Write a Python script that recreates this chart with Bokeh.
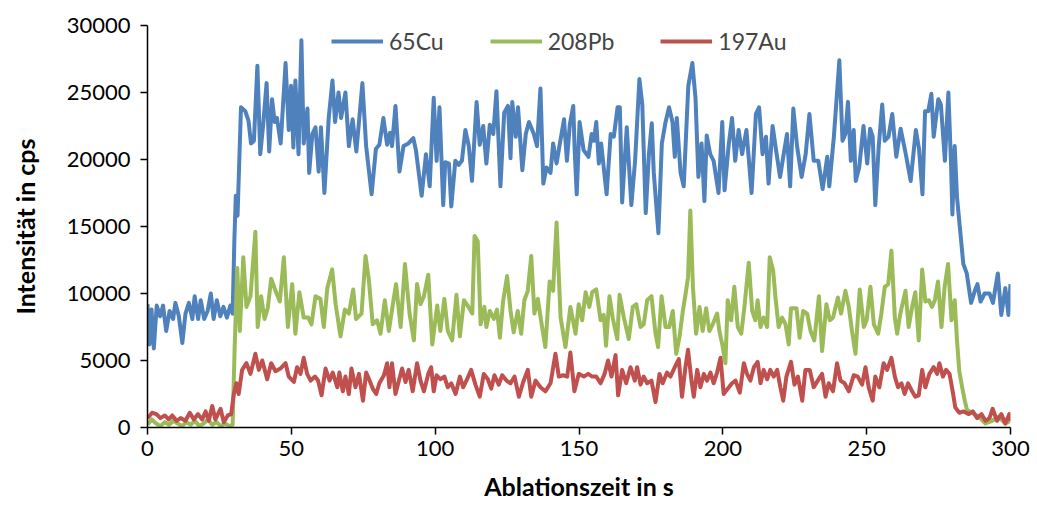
from bokeh.plotting import figure
from bokeh.models import Range1d, FixedTicker, Legend, LegendItem, ColumnDataSource
from bokeh.embed import file_html
from bokeh.resources import INLINE

# ---- data ----
cu_t = [0, 0.7, 1.4, 2.2, 3.2, 4.4, 5.4, 6.5, 7.7, 8.9, 9.7, 10.9, 12.1, 13.2, 14.4, 15.6, 16.4, 17.6, 18.5, 19.7,
        20.9, 22, 23, 24.1, 25.3, 26.4, 27.6, 28.8, 29.6, 30.2, 30.7, 31.3, 32.5, 34, 35.1, 36, 37, 38.2, 39.2, 40.3,
        41.4, 42.3, 43.3, 44.2, 45, 46.3, 48, 49.1, 49.9, 50.7, 51.4, 52.5, 53.5, 54.3, 55.6, 56.2, 57.3, 58.4, 59.5, 60.3,
        61.5, 63, 64.3, 65.2, 66.4, 67.3, 68.8, 70, 71.3, 72.6, 74.7, 76, 77.9, 79.4, 80.6, 82, 83.3, 84.3, 85, 86.2,
        87.6, 89, 90.7, 92.4, 93.3, 95.3, 96.8, 98.1, 99.5, 100.5, 101.5, 102.8, 103.5, 104.8, 105.6, 107, 108.2, 109.3, 110.5, 111.7,
        112.8, 114.4, 115.5, 116.7, 117.8, 119, 120.2, 121.3, 122.7, 124, 125.3, 126.2, 126.8, 128, 128.8, 130.3, 131.5, 132.6, 134.3, 135.4,
        136.6, 137.6, 138.7, 140.1, 141, 142.2, 143.2, 144.8, 145.8, 146.8, 148, 148.5, 149.2, 150.2, 151.6, 153.3, 154.4, 155.2, 156, 156.9,
        157.7, 159.6, 161, 162.1, 163.4, 164.2, 165, 166.6, 168.2, 169.5, 171, 172, 173.2, 174.3, 175.3, 176, 177.6, 178.8, 180, 181.3,
        182.5, 183.3, 184, 185.3, 186.4, 188, 189.4, 190.5, 191.5, 192.6, 193.6, 194.4, 195.6, 196.8, 198.5, 199.8, 200.6, 202, 203.2, 204.3,
        205.5, 206.7, 208.2, 210, 211.5, 212.6, 213.8, 215, 215.9, 217.3, 218.5, 219.9, 221, 222.3, 223.4, 224.5, 225.8, 227.4, 228.8, 230.1,
        231.6, 233.2, 234.7, 236.3, 237, 238.6, 240.5, 241.6, 242.6, 243.5, 244.5, 245.5, 246.2, 247.4, 248.9, 250.2, 251.2, 252.1, 253, 254.2,
        255.4, 256.3, 257.6, 258.9, 260.3, 261.8, 263.6, 265.3, 267.1, 268.2, 269.4, 270.3, 271.4, 272.5, 273.3, 274.9, 275.8, 277.2, 278.4, 279.3,
        279.8, 280.6, 281.4, 282.5, 283.6, 284.8, 286.3, 287.6, 288.5, 289.6, 291, 292.7, 293.9, 295.6, 296.8, 298.2, 299.3, 300]
cu_v = [9200, 6200, 8800, 5900, 9100, 8300, 9100, 7200, 8700, 8100, 9300, 8300, 6300, 8500, 9300, 8100, 9800, 8100, 9500, 8100,
        8700, 10000, 8100, 9500, 8300, 9000, 8200, 9100, 8500, 14000, 17300, 15800, 23900, 23600, 22900, 21200, 21400, 27000, 20400, 22800,
        25700, 20600, 24500, 22800, 23100, 21200, 27200, 22200, 25500, 20900, 25900, 20400, 28900, 21200, 23800, 19000, 21900, 22400, 19100, 22400,
        17500, 23100, 25900, 22800, 25000, 23100, 25000, 21000, 23000, 20600, 25700, 21000, 17400, 20800, 21100, 23100, 21100, 22000, 21000, 24000,
        19100, 21000, 21200, 21600, 20700, 17300, 20400, 18000, 24600, 19900, 23900, 16600, 19800, 19700, 16500, 19900, 19600, 19900, 22200, 21000,
        18400, 24300, 21100, 22500, 19700, 22600, 21900, 25100, 18000, 23500, 24000, 20100, 24300, 21700, 23900, 19200, 21900, 22800, 21900, 21000,
        25300, 18200, 19400, 19000, 21200, 19700, 21000, 23000, 19900, 22600, 24000, 20700, 17400, 22800, 20700, 20200, 21900, 21400, 22800, 19700,
        21200, 17400, 21900, 21700, 23900, 23900, 16800, 22400, 16600, 19900, 26000, 24100, 16000, 20400, 22700, 19000, 14500, 21200, 22700, 23900,
        22800, 20200, 23100, 19000, 18000, 25500, 27200, 24600, 18700, 21200, 16900, 21800, 20400, 19900, 17500, 22800, 17700, 21000, 23100, 19900,
        22200, 20400, 22200, 17500, 23400, 23900, 20400, 21700, 18200, 22500, 20700, 18700, 20200, 21900, 18000, 23800, 21000, 18700, 20400, 23400,
        19900, 19900, 17800, 20200, 18000, 21700, 27400, 21400, 21900, 24300, 19900, 22200, 18400, 19400, 22500, 19700, 22300, 21700, 16600, 21000,
        24100, 21400, 21700, 23400, 20200, 22300, 20400, 18400, 22200, 20800, 17400, 23600, 23600, 24900, 21700, 24500, 24100, 19900, 25000, 19900,
        15900, 21000, 17200, 14700, 12200, 11500, 9300, 10200, 10700, 9400, 10000, 10000, 9300, 11500, 8400, 10400, 8400, 10700]

pb_t = [0, 1.5, 3, 4.5, 6, 7.5, 9, 10.5, 12, 13.5, 15, 16.5, 18, 19.5, 21, 22.5, 24, 25.5, 27, 28.5,
        29.6, 30.3, 31.2, 32.1, 33.3, 34.4, 35.8, 37.5, 38.3, 39.5, 40.7, 41.8, 43, 44.5, 46, 47.4, 48.8, 50.3, 51.4, 52.8,
        54.3, 55.9, 57, 58.4, 60.1, 61.3, 62.5, 64.2, 65.4, 67.1, 68.6, 70, 71.5, 72.5, 74.4, 75.8, 76.9, 78.3, 79.8, 81,
        82.5, 83.9, 85.3, 86.4, 88, 89.5, 91.1, 92.6, 93.7, 94.9, 96.1, 97.6, 99, 100.7, 101.8, 103.2, 104.4, 105.9, 107.4, 108.6,
        110, 111.3, 112.9, 113.7, 114.8, 115.8, 117.1, 117.8, 119, 120.4, 121.5, 122.5, 123.6, 125, 126.2, 127.3, 128.7, 129.9, 131, 132.2,
        133.4, 134.5, 135.7, 136.8, 138.3, 139.8, 141, 142.2, 143.6, 145.3, 147, 148.8, 149.9, 151.1, 152.3, 153.6, 154.6, 156, 157.5, 158.6,
        159.4, 160.6, 161.7, 163.3, 164.1, 165.6, 167.3, 168.7, 169.9, 171.4, 172.5, 173.7, 175.2, 176.6, 177.5, 178.7, 180.1, 181.4, 182.6, 183.8,
        184.9, 186.1, 187, 187.9, 188.7, 189.6, 190.7, 191.9, 193, 194.2, 195.3, 196.5, 198, 198.8, 199.8, 200.9, 201.7, 202.9, 204, 205.2,
        206.4, 207.5, 209, 210.2, 211.3, 212.1, 213.1, 214.2, 215.4, 216.3, 217.5, 218.3, 219.4, 220.6, 221.8, 222.9, 223.7, 225.6, 226.7, 227.9,
        229.3, 230.5, 231.8, 233.4, 234.5, 236, 237.2, 238.3, 240, 241.1, 242.6, 243.8, 244.9, 246.1, 247.6, 249, 250, 251.3, 252.5, 254,
        255.1, 256.3, 257.5, 258.6, 259.8, 260.6, 261.7, 263.5, 264.6, 265.8, 266.9, 268.1, 269.3, 270.4, 271.6, 272.7, 273.7, 274.8, 276, 277.1,
        278.3, 279.5, 280.6, 281.4, 282.2, 283.2, 284.1, 284.9, 286.6, 289, 291.3, 293.6, 295.9, 298.2, 300]
pb_v = [200, 600, 300, 100, 400, 200, 500, 300, 100, 400, 200, 500, 100, 300, 600, 200, 400, 100, 300, 100,
        200, 6000, 11900, 7200, 12700, 9000, 9800, 14600, 7500, 9800, 8100, 8900, 11100, 10200, 9400, 12700, 7500, 10700, 7000, 10100,
        8200, 8200, 7700, 9800, 9600, 7500, 10400, 11800, 9200, 6800, 8800, 8500, 10300, 8100, 8500, 12800, 11100, 7700, 8000, 7000,
        9500, 7200, 9200, 10700, 7500, 12200, 8500, 6500, 10700, 9200, 9800, 11400, 6200, 9100, 7200, 9600, 7200, 6500, 9900, 6800,
        9500, 9100, 8500, 14300, 13900, 7700, 9000, 7500, 8700, 8100, 8800, 6700, 9400, 11300, 8700, 7100, 8700, 7000, 9500, 10200,
        12800, 8500, 9600, 8000, 6000, 10900, 10200, 15300, 8200, 6000, 9000, 7000, 9200, 8000, 10100, 9000, 10100, 10300, 8000, 8400,
        6100, 9800, 8200, 6600, 9900, 8200, 6600, 9000, 9200, 7500, 7700, 9500, 9800, 7000, 6000, 9800, 7500, 7500, 8700, 5500,
        6700, 8700, 9900, 11200, 16200, 10500, 7000, 9000, 7200, 8900, 7200, 7700, 8500, 7200, 6200, 4800, 9500, 8000, 10500, 7500,
        7000, 9000, 12300, 8700, 8000, 9500, 7500, 8200, 7500, 12700, 11700, 9700, 7500, 8200, 7700, 6200, 8900, 8900, 6700, 8700,
        8500, 7200, 6500, 9800, 5700, 9200, 8000, 8200, 9700, 8500, 10200, 9000, 7200, 5500, 10300, 7500, 8000, 10500, 7700, 7000,
        8500, 10500, 10700, 13200, 8200, 7000, 8500, 10200, 7500, 9000, 10100, 6500, 11800, 9400, 9500, 9000, 9500, 10900, 7500, 10500,
        12200, 8000, 9500, 6500, 4200, 3000, 2000, 1300, 1100, 800, 300, 500, 800, 300, 500]

au_t = [0, 1.6, 3.1, 4.5, 6, 7.4, 8.6, 10.1, 11.5, 13.2, 14.7, 16.1, 17.5, 19, 20.2, 21.3, 22.5, 23.6, 25.4, 26.5,
        27.9, 29.1, 30, 30.9, 31.7, 32.9, 34.4, 35.8, 37.5, 38.7, 39.9, 41.6, 43, 44.5, 46.2, 48, 49.1, 50.9, 52, 53.2,
        54.3, 55.5, 56.7, 58.2, 59.3, 60.5, 61.9, 63.3, 64.4, 66, 66.7, 67.9, 68.8, 70, 70.9, 72.3, 73.5, 74.9, 76, 77.2,
        78.3, 79.5, 80.6, 82.2, 83.3, 84.1, 85, 86.2, 87.4, 88.5, 89.7, 90.8, 92.2, 93.7, 94.9, 96.1, 97.6, 98.6, 99.5, 100.5,
        101.8, 103.2, 104.4, 105.6, 107.1, 108.6, 109.7, 111.1, 112.5, 114, 115.5, 116.9, 118.3, 119.5, 120.6, 122.1, 123.3, 124.8, 126.2, 127.6,
        129.1, 130.6, 132.2, 133.4, 134.9, 136.6, 138.3, 140.1, 141.8, 143, 144.5, 145.9, 147, 148.4, 149.9, 151.7, 153.2, 154.6, 156, 157.5,
        158.9, 160.1, 161.3, 162.7, 163.6, 165, 166.4, 167.9, 169.4, 170.2, 171.4, 172.5, 173.7, 175.2, 176.6, 178, 179.1, 180.6, 181.8, 183.3,
        184.7, 185.8, 187, 187.9, 189.1, 189.9, 191.1, 192.2, 193.4, 194.5, 195.7, 196.8, 198, 199.2, 200.3, 201.7, 203.2, 204.4, 205.9, 207.3,
        208.4, 209.6, 210.8, 212.1, 213.1, 214.2, 215.4, 216.5, 217.7, 218.9, 220, 221, 222.1, 223.7, 224.9, 226.1, 227.6, 228.7, 230.2, 231.6,
        233, 234.5, 235.7, 236.8, 238.3, 239.7, 240.9, 242.3, 243.8, 245.5, 246.9, 248.4, 249.6, 250.7, 252.1, 253, 254.4, 255.9, 257.1, 258.6,
        259.8, 260.9, 262.1, 263.2, 264.4, 265.8, 266.9, 268.1, 269.3, 270.4, 271.8, 273.3, 274.5, 275.3, 276.5, 277.6, 278.8, 279.9, 280.8, 282.2,
        283.7, 285.5, 286.9, 288.4, 289.9, 291.3, 292.7, 293.8, 295.3, 296.8, 298.2, 299.6, 300]
au_v = [700, 1100, 1000, 700, 900, 600, 900, 500, 700, 500, 1100, 600, 1000, 600, 1200, 500, 1600, 600, 1400, 400,
        900, 1000, 2500, 3300, 2500, 4300, 4800, 4000, 5500, 4300, 5000, 3600, 4800, 4200, 4400, 4800, 3800, 3400, 4500, 4000,
        5200, 4000, 3500, 3800, 3500, 2400, 4400, 3500, 4100, 3000, 4100, 2700, 3800, 2500, 4400, 3000, 4000, 2000, 4100, 3500,
        2900, 2500, 3300, 3900, 4800, 3000, 4800, 2500, 3500, 4400, 3400, 4300, 2700, 4800, 3500, 2700, 4000, 4500, 2700, 3900,
        3600, 3800, 3000, 3300, 2500, 3800, 3000, 3600, 4300, 3200, 2300, 4000, 3600, 2900, 3900, 3200, 3900, 3500, 3300, 3800,
        2300, 3400, 4300, 2300, 3500, 3000, 2700, 3300, 5500, 3800, 3900, 3800, 5600, 2700, 4000, 3800, 4000, 3800, 3800, 3300,
        4000, 5000, 3800, 5400, 2400, 4300, 3300, 4500, 3500, 4500, 3200, 3800, 3300, 3500, 1900, 4000, 3300, 4100, 3800, 4500,
        5100, 2300, 4500, 5800, 3500, 2300, 4300, 3000, 4000, 3500, 4100, 3300, 4100, 5200, 2500, 2900, 3300, 3500, 2600, 4800,
        4000, 3500, 4500, 4900, 3300, 4300, 3600, 4300, 3800, 4300, 3000, 2000, 3800, 4900, 3200, 3800, 2000, 4300, 4300, 3000,
        3500, 4000, 2300, 3300, 2700, 4800, 3500, 3300, 2700, 3900, 3800, 3200, 4500, 3000, 2000, 3800, 3000, 4800, 4300, 5200,
        3800, 3000, 3300, 2500, 3300, 2700, 2300, 2400, 4300, 3000, 4000, 4500, 4000, 4800, 3800, 4300, 4000, 2700, 1500, 1100,
        1200, 1000, 1200, 700, 1000, 500, 700, 1400, 500, 1000, 300, 1000, 500]

series_names = ["65Cu", "208Pb", "197Au"]
series_colors = ["#4F81BD", "#9BBB59", "#C0504D"]
x_ticks = [0, 50, 100, 150, 200, 250, 300]
y_ticks = [0, 5000, 10000, 15000, 20000, 25000, 30000]

FONT = "Lato"

p = figure(width=1037, height=509, output_backend="svg", toolbar_location=None,
           x_range=Range1d(0, 300), y_range=Range1d(0, 30000),
           min_border_left=147, min_border_right=27, min_border_top=25, min_border_bottom=82)
p.outline_line_color = None
p.xgrid.visible = False
p.ygrid.visible = False
p.background_fill_color = "white"

renderers = []
for t, v, c in zip([cu_t, pb_t, au_t], [cu_v, pb_v, au_v], series_colors):
    src = ColumnDataSource(dict(x=t, y=v))
    r = p.line("x", "y", source=src, line_color=c, line_width=4, line_join="round")
    renderers.append(r)

for ax in (p.xaxis[0], p.yaxis[0]):
    ax.axis_line_color = "black"
    ax.axis_line_width = 1.5
    ax.major_tick_line_color = "black"
    ax.major_tick_line_width = 1.5
    ax.major_tick_out = 7
    ax.major_tick_in = 0
    ax.minor_tick_line_color = None
    ax.major_label_text_font = FONT
    ax.major_label_text_font_size = "22px"
    ax.major_label_text_color = "black"
    ax.axis_label_text_font = FONT
    ax.axis_label_text_font_size = "25px"
    ax.axis_label_text_font_style = "bold"
    ax.axis_label_text_color = "black"

p.xaxis.ticker = FixedTicker(ticks=x_ticks)
p.yaxis.ticker = FixedTicker(ticks=y_ticks)
p.xaxis.axis_label = "Ablationszeit in s"
p.yaxis.axis_label = "Intensität in cps"
p.xaxis.major_label_standoff = 6
p.yaxis.major_label_standoff = 10
p.xaxis.axis_label_standoff = 12
p.yaxis.axis_label_standoff = 24

legend = Legend(items=[LegendItem(label=n, renderers=[r]) for n, r in zip(series_names, renderers)],
                location=(184, 372), orientation="horizontal")
legend.border_line_color = None
legend.background_fill_alpha = 0
legend.label_text_font = FONT
legend.label_text_font_size = "23px"
legend.glyph_width = 52
legend.label_standoff = 6
legend.spacing = 46
legend.margin = 0
legend.padding = 2
p.add_layout(legend)

open("out.html", "w").write(file_html(p, INLINE))
